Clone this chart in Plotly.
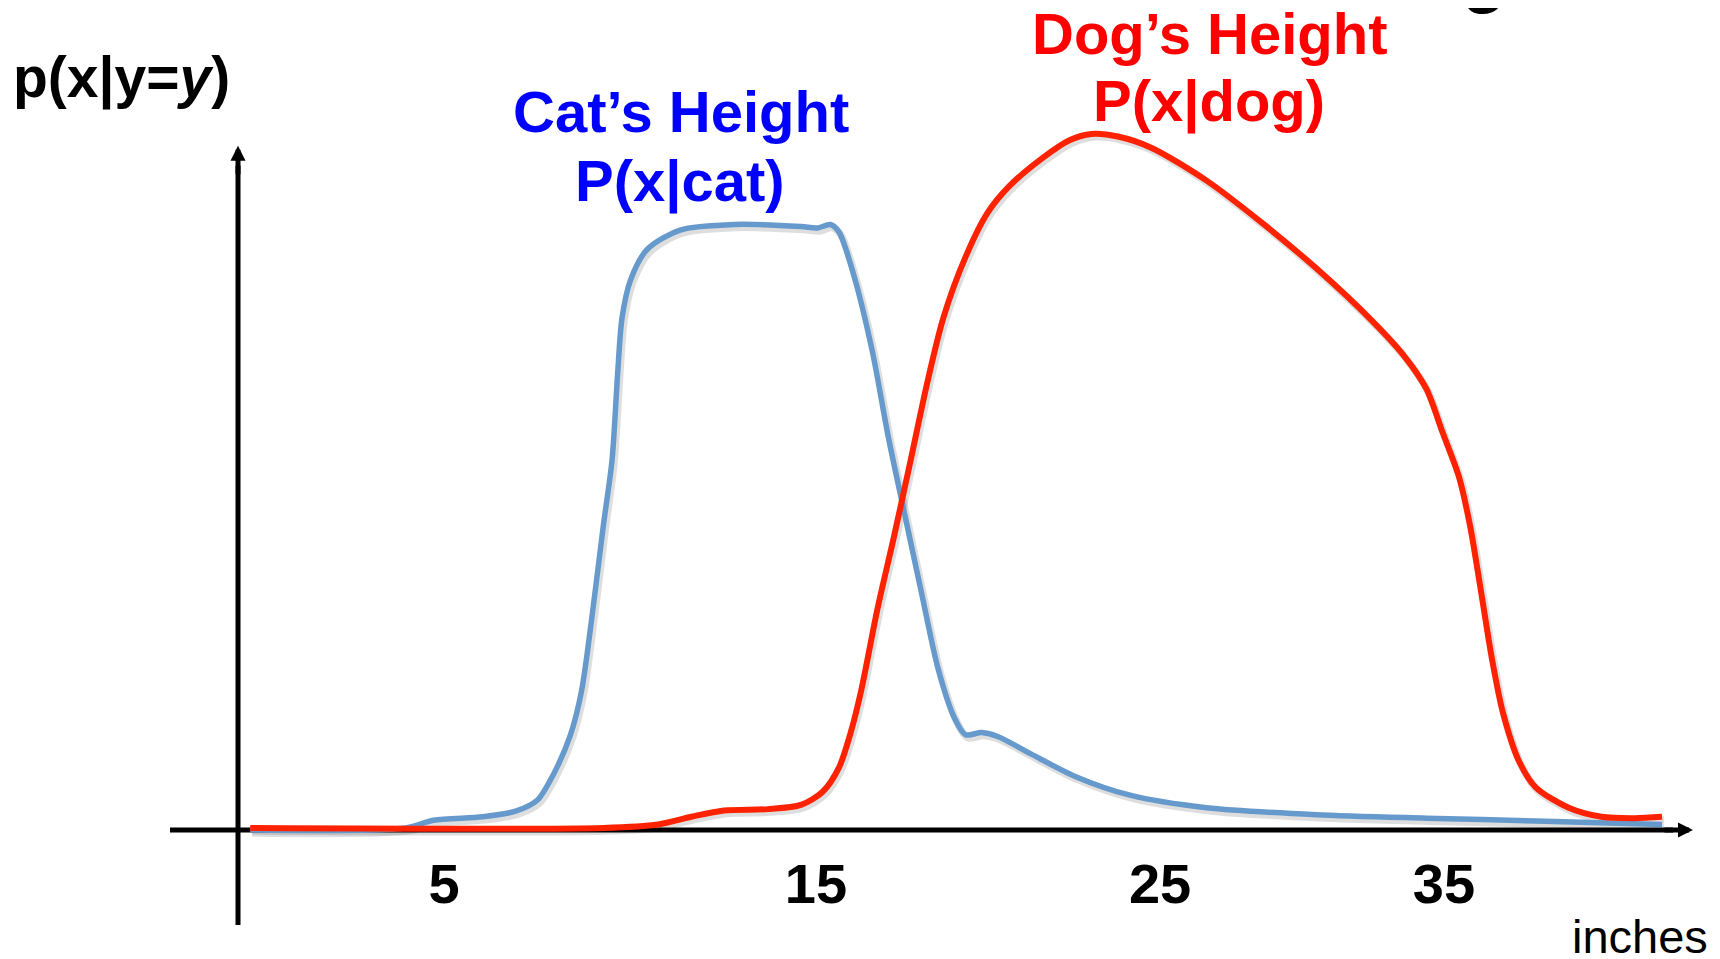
import plotly.graph_objects as go

# ---------------- data ----------------
# Cat's height density (x in inches, y in relative density)
cat_x = [-1.40, 3.26, 4.08, 5.55, 6.54, 7.19, 7.69, 8.18, 8.51, 8.83, 9.16, 9.42, 9.59, 9.72,
         9.98, 10.47, 11.46, 13.10, 15.07, 15.56, 15.95, 16.21, 16.64, 17.20, 17.69, 18.18,
         18.67, 19.17, 19.66, 19.99, 20.48, 20.97, 21.96, 23.27, 24.91, 27.20, 30.48, 33.77,
         37.05, 40.82]
cat_y = [0.000, 0.003, 0.014, 0.019, 0.027, 0.043, 0.082, 0.137, 0.200, 0.310, 0.437, 0.531,
         0.657, 0.736, 0.791, 0.834, 0.862, 0.870, 0.867, 0.865, 0.870, 0.859, 0.799, 0.689,
         0.563, 0.452, 0.342, 0.232, 0.161, 0.137, 0.140, 0.134, 0.109, 0.077, 0.050, 0.032,
         0.022, 0.017, 0.013, 0.008]

# Dog's height density
dog_x = [-1.40, 9.16, 10.80, 11.79, 12.77, 14.08, 15.07, 15.72, 16.21, 16.54, 16.87, 17.36,
         17.85, 18.35, 18.84, 19.33, 19.99, 20.64, 21.30, 22.28, 23.10, 23.76, 24.58, 25.56,
         27.20, 28.84, 30.48, 32.12, 33.11, 33.77, 34.26, 34.75, 35.08, 35.41, 35.73, 36.06,
         36.55, 37.05, 38.03, 39.01, 40.00, 40.82]
dog_y = [0.003, 0.003, 0.008, 0.019, 0.028, 0.030, 0.036, 0.055, 0.090, 0.137, 0.200, 0.318,
         0.421, 0.531, 0.641, 0.736, 0.823, 0.886, 0.925, 0.965, 0.991, 1.000, 0.996, 0.980,
         0.933, 0.873, 0.807, 0.733, 0.681, 0.634, 0.571, 0.507, 0.437, 0.342, 0.247, 0.169,
         0.098, 0.061, 0.032, 0.019, 0.017, 0.019]

tick_vals = [4.40, 15.52, 25.81, 34.30]
tick_text = ["5", "15", "25", "35"]

# ---------------- figure ----------------
W, H = 1720, 959
OFF = 8  # the page body margin shifts the figure by 8px; compensate
FONT = "Liberation Sans, Arial, Helvetica, sans-serif"
BLUE_LINE = "#6699cc"
RED_LINE = "#ff2200"

PX_PER_X = 33.44
PX_PER_Y = 696.0
x_left = (OFF - 297) / PX_PER_X
y_top = (830 - OFF) / PX_PER_Y
X_RANGE = [x_left, x_left + W / PX_PER_X]
Y_RANGE = [y_top - H / PX_PER_Y, y_top]
ux = 1 / PX_PER_X   # data units per pixel
uy = 1 / PX_PER_Y

def pxp(x):
    return (x - OFF) / W

def pyp(y):
    return 1 - (y - OFF) / H

fig = go.Figure()

# soft drop shadows
for xs, ys in [(cat_x, cat_y), (dog_x, dog_y)]:
    fig.add_trace(go.Scatter(
        x=[v + 2 * ux for v in xs], y=[v - 3 * uy for v in ys], mode="lines",
        line=dict(color="rgba(0,0,0,0.13)", width=7.5, shape="spline", smoothing=0.8),
        hoverinfo="skip", showlegend=False))

fig.add_trace(go.Scatter(x=cat_x, y=cat_y, mode="lines", name="P(x|cat)",
                         line=dict(color=BLUE_LINE, width=5.5, shape="spline", smoothing=0.8),
                         showlegend=False))
fig.add_trace(go.Scatter(x=dog_x, y=dog_y, mode="lines", name="P(x|dog)",
                         line=dict(color=RED_LINE, width=6, shape="spline", smoothing=0.8),
                         showlegend=False))

# axes drawn as lines (below the curves)
y_axis_x = -1.764
x_axis_start, x_axis_tip = -3.798, 41.746
y_axis_bottom, y_axis_tip = -0.1365, 0.983

fig.add_shape(type="line", layer="below", x0=x_axis_start, x1=x_axis_tip - 20 * ux,
              y0=0, y1=0, line=dict(color="black", width=5))
fig.add_shape(type="line", layer="below", x0=y_axis_x, x1=y_axis_x,
              y0=y_axis_bottom, y1=y_axis_tip - 20 * uy, line=dict(color="black", width=5))

# arrow heads
fig.add_annotation(x=x_axis_tip, y=0, ax=-30, ay=0, text="", showarrow=True,
                   arrowhead=2, arrowsize=0.6, arrowwidth=5, arrowcolor="black", standoff=0)
fig.add_annotation(x=y_axis_x, y=y_axis_tip, ax=0, ay=30, text="", showarrow=True,
                   arrowhead=2, arrowsize=0.6, arrowwidth=5, arrowcolor="black", standoff=0)

def label(text, x, y, size, color="black", bold=True):
    fig.add_annotation(xref="paper", yref="paper", x=pxp(x), y=pyp(y), text=text,
                       showarrow=False, xanchor="center", yanchor="middle",
                       font=dict(family=FONT, size=size, color=color,
                                 weight="bold" if bold else "normal"))

label("p(x|y=<i>y</i>)", 122, 77, 57)
label("Cat\u2019s Height", 681, 112, 58, "#0000ff")
label("P(x|cat)", 680, 181, 58, "#0000ff")
label("Dog\u2019s Height", 1210, 34, 58, "#ff0000")
label("P(x|dog)", 1209, 101, 58, "#ff0000")
label("inches", 1640, 936, 47, bold=False)
label("g", 1484, -26, 72)   # descender of the cut-off title above

fig.update_layout(
    width=W, height=H, margin=dict(l=0, r=0, t=0, b=0),
    paper_bgcolor="white", plot_bgcolor="white",
    xaxis=dict(range=X_RANGE, showgrid=False, zeroline=False, showline=False,
               ticks="", tickvals=tick_vals, ticktext=tick_text,
               tickfont=dict(family=FONT, size=56, color="black", weight="bold"),
               anchor="free", position=1 - (830 - OFF) / H, ticklabelstandoff=16,
               fixedrange=True),
    yaxis=dict(range=Y_RANGE, visible=False, fixedrange=True),
    showlegend=False,
)

fig.write_html("out.html")
